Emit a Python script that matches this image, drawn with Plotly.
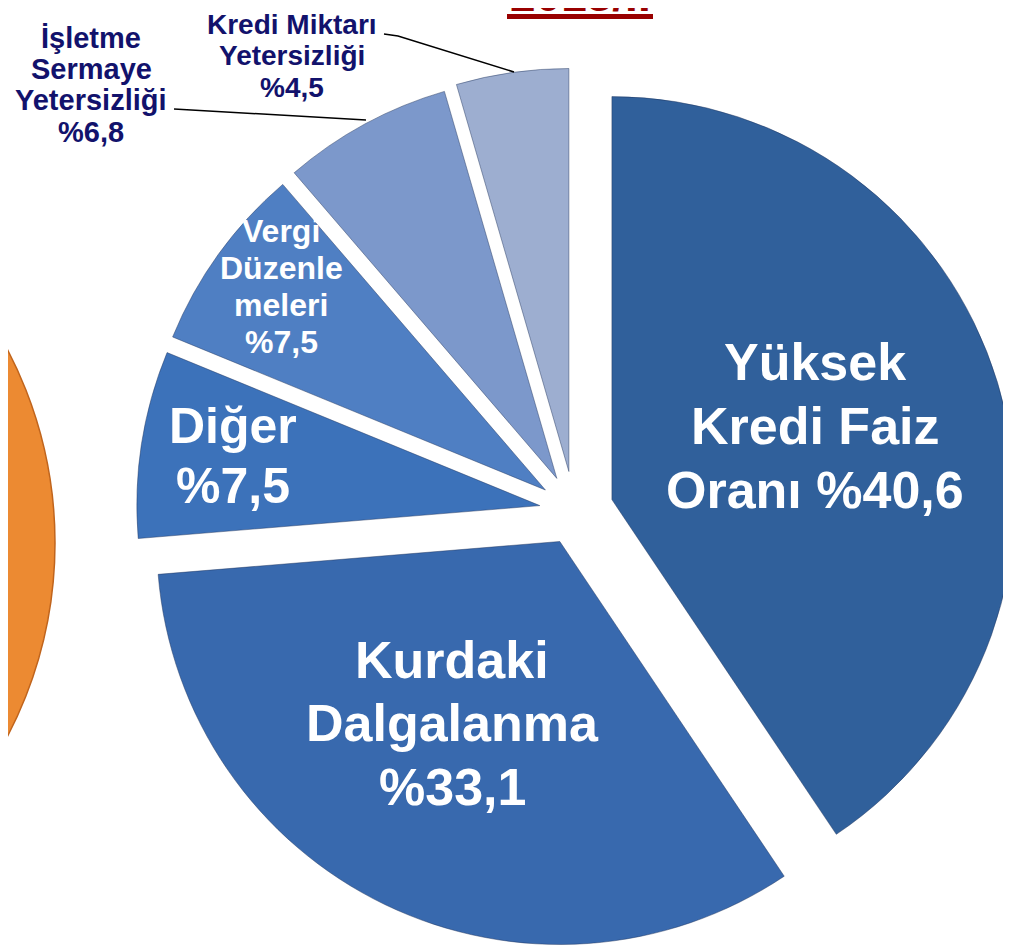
import plotly.graph_objects as go

# ---------------- data ----------------
categories = ["Yüksek Kredi Faiz Oranı", "Kurdaki Dalgalanma", "Diğer",
              "Vergi Düzenlemeleri", "İşletme Sermaye Yetersizliği",
              "Kredi Miktarı Yetersizliği"]
values = [40.6, 33.1, 7.5, 7.5, 6.8, 4.5]
# how each category name is broken into lines on the slide
name_lines = [["Yüksek", "Kredi Faiz", "Oranı"],
              ["Kurdaki", "Dalgalanma"],
              ["Diğer"],
              ["Vergi", "Düzenle", "meleri"],
              ["İşletme", "Sermaye", "Yetersizliği"],
              ["Kredi Miktarı", "Yetersizliği"]]
title_text = "2013/II"

# ---------------- style ----------------
W, H = 1011, 952
OFF = 8  # the page body margin offsets the figure by 8 px
colors = ["#30609B", "#3869AE", "#3C72BA", "#4F7FC3", "#7C98CB", "#9DAED0"]
pulls = [0.097, 0.084, 0.087, 0.089, 0.092, 0.099]
NAVY = "#12126C"
FONT = "Liberation Sans, Arial, sans-serif"


def X(px):
    """page pixel x -> paper fraction"""
    return (px - OFF) / W


def Y(py):
    """page pixel y -> paper fraction"""
    return 1 - (py - OFF) / H


def fmt(v):
    return "%" + f"{v:.1f}".replace(".", ",")


def label_lines(i):
    lines = list(name_lines[i])
    if i == 0:  # value shares the last line
        lines[-1] = lines[-1] + " " + fmt(values[i])
    else:
        lines.append(fmt(values[i]))
    return lines


# label placement: (centre x, first baseline, line step, font size, colour)
label_pos = [
    (815, 380, 64, 52, "white"),
    (452, 678, 63.5, 52, "white"),
    (233, 443, 60, 50, "white"),
    (281, 242, 37, 32, "white"),
    (91, 48, 31.3, 29, NAVY),
    (292, 34, 31.5, 28, NAVY),
]

fig = go.Figure()

# pie: centre ~ (574.5, 511) on the page, radius ~403 px
cx, cy, r = 574.5, 511, 403
ext = r * (1 + max(pulls))
fig.add_trace(go.Pie(
    labels=categories,
    values=values,
    sort=False,
    direction="clockwise",
    rotation=0,
    pull=pulls,
    marker=dict(colors=colors, line=dict(color="rgba(30,50,90,0.45)", width=1)),
    textinfo="none",
    hoverinfo="label+percent",
    showlegend=False,
    domain=dict(x=[X(cx - ext), min(1.0, X(cx + ext))],
                y=[max(0.0, Y(cy + ext)), Y(cy - ext)]),
))

annotations = []
for i in range(len(categories)):
    x0, b0, step, fs, col = label_pos[i]
    for k, line in enumerate(label_lines(i)):
        base = b0 + k * step
        annotations.append(dict(
            x=X(x0), y=Y(base - 0.35 * fs), xref="paper", yref="paper",
            text="<b>" + line + "</b>", showarrow=False,
            xanchor="center", yanchor="middle", borderpad=0,
            font=dict(family=FONT, size=fs, color=col)))

# cut-off title at the top of the slide
annotations.append(dict(
    x=X(580), y=Y(11 - 0.35 * 46), xref="paper", yref="paper",
    text="<b>" + title_text + "</b>", showarrow=False,
    xanchor="center", yanchor="middle",
    font=dict(family=FONT, size=46, color="#990000")))

shapes = [
    # part of the neighbouring (orange) pie on the slide
    dict(type="circle", xref="paper", yref="paper",
         x0=X(-779), x1=X(55), y0=Y(960), y1=Y(126),
         fillcolor="#EC8A32", line=dict(color="#C0641C", width=1.5),
         layer="below"),
    # title underline
    dict(type="rect", xref="paper", yref="paper",
         x0=X(507), x1=X(653), y0=Y(19), y1=Y(14),
         fillcolor="#990000", line=dict(width=0)),
    # leader lines
    dict(type="path", xref="paper", yref="paper",
         path=f"M {X(174)} {Y(109)} L {X(366)} {Y(120)}",
         line=dict(color="black", width=1.5)),
    dict(type="path", xref="paper", yref="paper",
         path=f"M {X(384)} {Y(34)} L {X(398)} {Y(36)} L {X(514)} {Y(72)}",
         line=dict(color="black", width=1.5)),
]

fig.update_layout(
    width=W, height=H,
    margin=dict(l=0, r=0, t=0, b=0),
    paper_bgcolor="white", plot_bgcolor="white",
    annotations=annotations, shapes=shapes,
)

fig.write_html("out.html")
